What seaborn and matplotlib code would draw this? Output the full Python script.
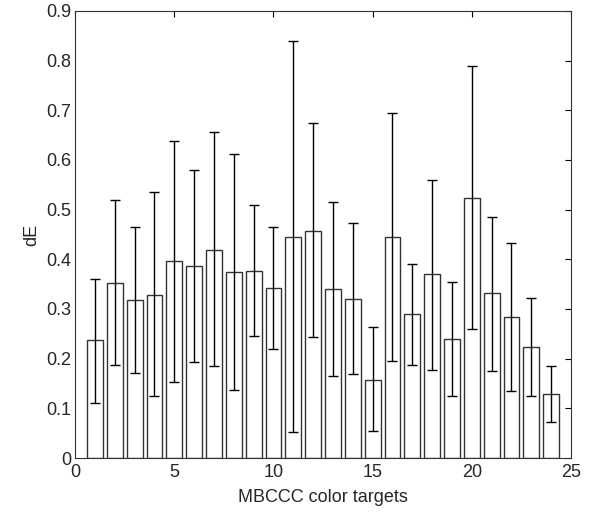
import matplotlib
matplotlib.use("Agg")
import matplotlib.pyplot as plt
import seaborn as sns
import numpy as np
import pandas as pd

targets = list(range(1, 25))
mean_dE = [0.237, 0.352, 0.318, 0.329, 0.397, 0.386, 0.419, 0.374, 0.377, 0.343,
           0.445, 0.457, 0.341, 0.320, 0.158, 0.445, 0.289, 0.371, 0.239, 0.524,
           0.332, 0.284, 0.223, 0.129]
err_low = [0.110, 0.187, 0.171, 0.124, 0.153, 0.193, 0.185, 0.137, 0.246, 0.219,
           0.052, 0.244, 0.165, 0.169, 0.054, 0.196, 0.187, 0.178, 0.124, 0.259,
           0.176, 0.135, 0.124, 0.072]
err_high = [0.361, 0.519, 0.465, 0.535, 0.638, 0.580, 0.656, 0.611, 0.510, 0.465,
            0.839, 0.674, 0.516, 0.473, 0.264, 0.695, 0.390, 0.560, 0.354, 0.789,
            0.485, 0.433, 0.322, 0.185]

df = pd.DataFrame({"target": targets, "dE": mean_dE})

sns.set_style("white")
plt.rcParams['font.family'] = ['Liberation Sans', 'DejaVu Sans']

fig = plt.figure(figsize=(5.96, 5.17), dpi=100)
ax = fig.add_axes([0.126, 0.114, 0.832, 0.865])

sns.barplot(data=df, x="target", y="dE", native_scale=True, width=0.8,
            color="white", edgecolor="#333333", linewidth=1.0, errorbar=None, ax=ax)

m = np.array(mean_dE)
yerr = np.vstack([m - np.array(err_low), np.array(err_high) - m])
ax.errorbar(targets, mean_dE, yerr=yerr, fmt="none", ecolor="black",
            elinewidth=1.0, capsize=3.6, capthick=1.0)

ax.set_xlim(0, 25)
ax.set_ylim(0, 0.9)
ax.set_xticks([0, 5, 10, 15, 20, 25])
ax.set_xticklabels(["0", "5", "10", "15", "20", "25"])
ax.set_yticks(np.arange(0, 0.91, 0.1))
ax.set_yticklabels(["0", "0.1", "0.2", "0.3", "0.4", "0.5", "0.6", "0.7", "0.8", "0.9"])
ax.tick_params(direction="in", length=4, width=0.8, top=True, right=True,
               labelsize=13, color="black", pad=3)
ax.tick_params(axis="x", pad=4)
for s in ax.spines.values():
    s.set_visible(True)
    s.set_color("#333333")
    s.set_linewidth(0.8)
ax.set_xlabel("MBCCC color targets", fontsize=13, labelpad=6)
ax.set_ylabel("dE", fontsize=13, labelpad=4)

fig.savefig("out.png", dpi=100)
